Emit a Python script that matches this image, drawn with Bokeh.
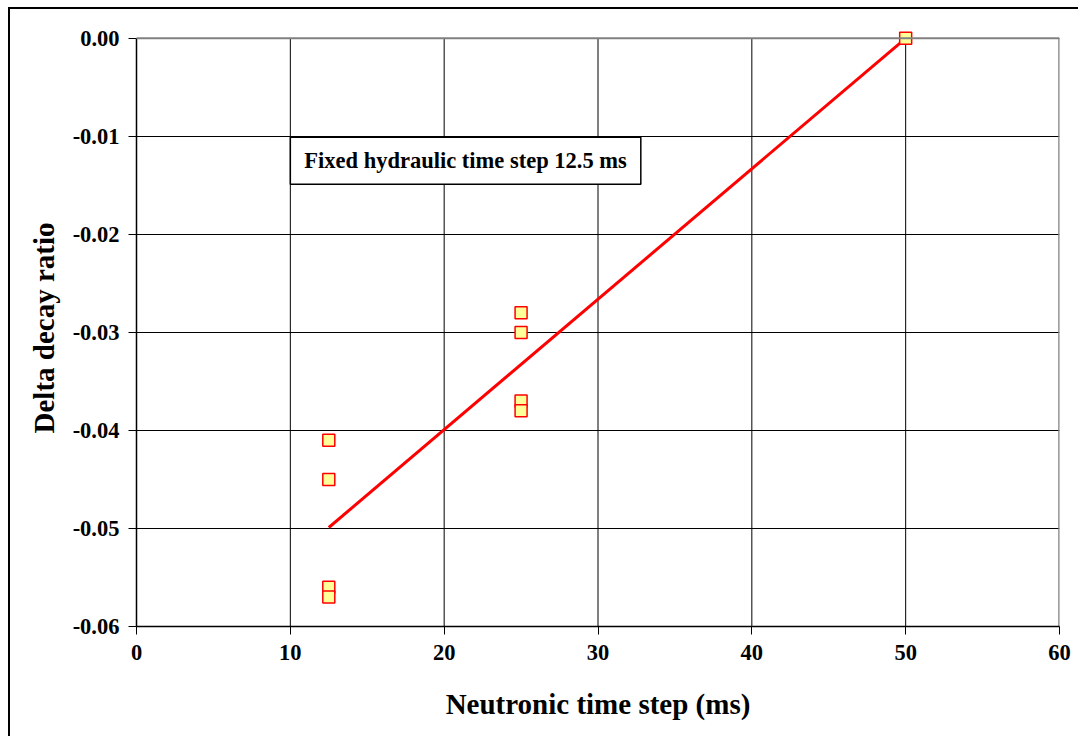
from bokeh.plotting import figure
from bokeh.models import Range1d, NumeralTickFormatter, FixedTicker, Label, ColumnDataSource, Span
from bokeh.embed import file_html
from bokeh.resources import INLINE

# Data
step_ms = [12.5, 12.5, 12.5, 12.5, 25, 25, 25, 25, 50]
delta_decay = [-0.041, -0.045, -0.056, -0.057, -0.028, -0.030, -0.037, -0.038, 0.000]
trend_x = [12.5, 50]
trend_y = [-0.0499, 0.0]
x_ticks = [0, 10, 20, 30, 40, 50, 60]
y_ticks = [-0.06, -0.05, -0.04, -0.03, -0.02, -0.01, 0.0]
note = "Fixed hydraulic time step 12.5 ms"

FONT = "Liberation Serif"
X_MIN, X_MAX = 0, 60
Y_MIN, Y_MAX = -0.06, 0.0
Y_HEADROOM = 0.0009  # extra room so the top marker is not clipped

p = figure(width=1070, height=729, output_backend="svg", toolbar_location=None,
           x_range=Range1d(X_MIN, X_MAX), y_range=Range1d(Y_MIN, Y_MAX + Y_HEADROOM),
           min_border_left=126, min_border_right=21, min_border_top=20, min_border_bottom=112)
p.styles = {"margin-left": "8px", "margin-top": "7px",
            "border-left": "2px solid black", "border-top": "2px solid black"}

p.outline_line_color = None
p.background_fill_color = "white"
p.border_fill_color = "white"

for ax in (p.xaxis[0], p.yaxis[0]):
    ax.axis_line_color = "black"
    ax.axis_line_width = 1.5
    ax.major_tick_line_color = "black"
    ax.major_tick_in = 0
    ax.major_tick_out = 8
    ax.minor_tick_line_color = None
    ax.major_label_text_font = FONT
    ax.major_label_text_font_style = "bold"
    ax.major_label_text_font_size = "22.5px"
    ax.major_label_text_color = "black"
    ax.axis_label_text_font = FONT
    ax.axis_label_text_font_style = "bold"
    ax.axis_label_text_font_size = "29px"
    ax.axis_label_text_color = "black"

p.xaxis.ticker = FixedTicker(ticks=x_ticks)
p.yaxis.ticker = FixedTicker(ticks=y_ticks)
p.yaxis.bounds = (Y_MIN, Y_MAX)
p.yaxis.formatter = NumeralTickFormatter(format="0.00")
p.xaxis.major_label_standoff = 10
p.yaxis.major_label_standoff = 9
p.xaxis.axis_label = "Neutronic time step (ms)"
p.yaxis.axis_label = "Delta decay ratio"
p.xaxis.axis_label_standoff = 25
p.yaxis.axis_label_standoff = 10

# horizontal grid from builtin grid; vertical grid drawn only up to y=0
p.ygrid.ticker = FixedTicker(ticks=y_ticks)
p.ygrid.grid_line_color = "black"
p.ygrid.grid_line_width = 1
p.xgrid.grid_line_color = None
inner_x = x_ticks[1:-1]
p.segment(x0=inner_x, y0=[Y_MIN] * len(inner_x), x1=inner_x, y1=[Y_MAX] * len(inner_x),
          line_color="black", line_width=1)

# plot-area border (gray top and right)
p.add_layout(Span(location=Y_MAX, dimension="width", line_color="#808080", line_width=2))
p.segment(x0=[X_MAX], y0=[Y_MIN], x1=[X_MAX], y1=[Y_MAX], line_color="#808080", line_width=2.5)

p.line(trend_x, trend_y, line_color="#FF0000", line_width=3)

src = ColumnDataSource(dict(x=step_ms, y=delta_decay))
p.scatter("x", "y", source=src, marker="square", size=12,
          fill_color="#FFFF99", line_color="#FF0000", line_width=1.5)

lab = Label(x=10, y=-0.0101, x_units="data", y_units="data", text=note,
            anchor="top_left", text_font=FONT, text_font_style="bold",
            text_font_size="22.5px", text_color="black",
            background_fill_color="white", border_line_color="black",
            border_line_width=1.5, padding=(14, 11))
p.add_layout(lab)

open("out.html", "w").write(file_html(p, INLINE))
